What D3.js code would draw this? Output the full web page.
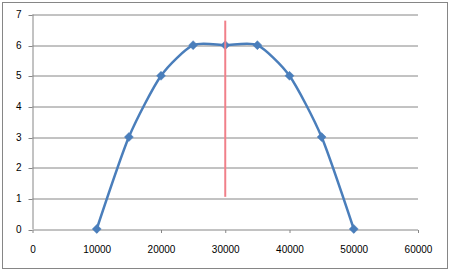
<!DOCTYPE html>
<html>
<head>
<meta charset="utf-8">
<script src="https://cdn.jsdelivr.net/npm/d3@7"></script>
<style>
  body { margin: 0; background: #fff; }
  text { font-family: "Liberation Sans", Arial, sans-serif; font-size: 10px; fill: #000; }
</style>
</head>
<body>
<div id="chart"></div>
<script>
// data
let xVals = [10000, 15000, 20000, 25000, 30000, 35000, 40000, 45000, 50000];
let yVals = [0, 3, 5, 6, 6, 6, 5, 3, 0];
let xTicks = [0, 10000, 20000, 30000, 40000, 50000, 60000];
let yTicks = [0, 1, 2, 3, 4, 5, 6, 7];
// red marker line
let markX = [30000, 30000];
let markY = [1.05, 6.8];

let W = 450, H = 271;
let margin = { top: 14.5, right: 32, bottom: 42, left: 32.5 },
    width = W - margin.left - margin.right,
    height = H - margin.top - margin.bottom;

let root = d3.select("#chart")
    .append("svg")
    .attr("width", W)
    .attr("height", H);

// outer frame
root.append("rect")
    .attr("x", 2.5).attr("y", 2.5)
    .attr("width", W - 5).attr("height", H - 5)
    .attr("fill", "#fff")
    .attr("stroke", "#868686")
    .attr("stroke-width", 1);

let svg = root.append("g")
    .attr("transform", "translate(" + margin.left + "," + margin.top + ")");

let x = d3.scaleLinear().domain([0, 60000]).range([0, width]);
let y = d3.scaleLinear().domain([0, 7]).range([height, 0]);

// gridlines
svg.append("g")
    .selectAll("line")
    .data(yTicks.slice(1))
    .enter()
    .append("line")
    .attr("x1", 0).attr("x2", width)
    .attr("y1", d => Math.round(y(d)) + 0.5)
    .attr("y2", d => Math.round(y(d)) + 0.5)
    .attr("stroke", "#868686");

// y axis
let yAxis = svg.append("g")
    .call(d3.axisLeft(y).tickValues(yTicks).tickSize(4).tickPadding(7).tickFormat(d3.format("d")));
yAxis.selectAll("line").attr("stroke", "#868686")
    .attr("transform", d => "translate(0," + (Math.round(y(d)) + 0.5 - y(d)) + ")");
yAxis.select(".domain").attr("stroke", "#868686").attr("d", "M0.5," + y(7) + "V" + height);
yAxis.selectAll("text").style("font-size", "10px").attr("font-family", null);

// x axis
let xAxis = svg.append("g")
    .attr("transform", "translate(0," + (Math.round(height) + 0.5) + ")")
    .call(d3.axisBottom(x).tickValues(xTicks).tickSize(3).tickPadding(13).tickFormat(d3.format("d")));
xAxis.selectAll("line").attr("stroke", "#868686");
xAxis.select(".domain").attr("stroke", "#868686").attr("d", "M0," + 0 + "H" + width);
xAxis.selectAll("text").style("font-size", "10px").attr("font-family", null);

// series
let pts = xVals.map((d, i) => [d, yVals[i]]);
let line = d3.line()
    .x(d => x(d[0]))
    .y(d => y(d[1]))
    .curve(d3.curveCardinal.tension(0.3));

svg.append("path")
    .datum(pts)
    .attr("fill", "none")
    .attr("stroke", "#4A7EBB")
    .attr("stroke-width", 2.5)
    .attr("d", line);

// diamond markers
svg.append("g")
    .selectAll("path")
    .data(pts)
    .enter()
    .append("path")
    .attr("transform", d => "translate(" + x(d[0]) + "," + y(d[1]) + ")")
    .attr("d", "M0,-4.5L4.5,0L0,4.5L-4.5,0Z")
    .attr("fill", "#4A7EBB")
    .attr("stroke", "#4A7EBB")
    .attr("stroke-width", 0.5);

// red line on top
svg.append("line")
    .attr("x1", x(markX[0])).attr("x2", x(markX[1]))
    .attr("y1", y(markY[0])).attr("y2", y(markY[1]))
    .attr("stroke", "#F0808A")
    .attr("stroke-width", 2);
</script>
</body>
</html>
